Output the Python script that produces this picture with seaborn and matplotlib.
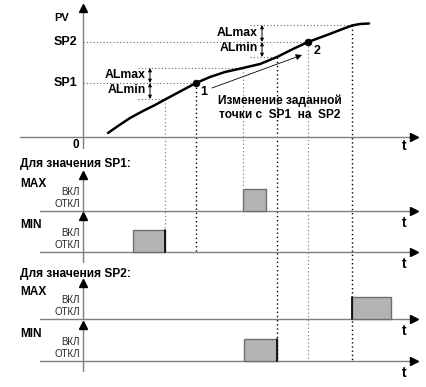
import matplotlib
matplotlib.use('Agg')
import matplotlib.pyplot as plt
import numpy as np
import pandas as pd
import seaborn as sns

# --- data (time axis in px, PV as height above the t axis) ---
T_CURVE = [108, 118, 130, 143, 155, 166, 181, 196, 210, 225, 243, 260, 277, 293, 308,
           327, 340, 352, 360, 369]
PV_CURVE = [4, 11, 19, 26, 32, 38, 46, 54, 60, 65, 69, 73, 80, 88, 95,
            102, 107, 111.5, 113, 113.5]

SETPOINTS = ['SP1', 'SP2']
SP_VALUE = [54, 95]
SP_TIME = [196, 308]
AL_HIGH = [69, 112]
AL_LOW = [38, 80]

# crossing times of the curve with the alarm levels / setpoints
EVENT_T = [165, 196, 243, 277, 308, 352]
EVENT_PV = [38, 54, 69, 80, 95, 112]
EVENT_DARK = [False, True, False, True, False, True]

ROWS = ['SP1 MAX', 'SP1 MIN', 'SP2 MAX', 'SP2 MIN']
BAR_START = [243, 133, 352, 244]
BAR_END = [266, 165, 391, 277]

# layout (pixels)
W, H = 427, 387
X0 = 83           # vertical axis
TOP_BASE = 137    # t axis of PV panel
ROW_BASE = [211, 252, 319, 361]
BAR_H = 22
EVENT_BOTTOM = [252, 252, 188, 361, 361, 361]

sns.set_style('white')
plt.rcParams['font.family'] = ['Liberation Sans', 'DejaVu Sans']

fig = plt.figure(figsize=(W / 100, H / 100), dpi=100)
ax = fig.add_axes([0, 0, 1, 1])
ax.set_xlim(0, W)
ax.set_ylim(H, 0)
ax.set_axis_off()

def pv_y(v):
    return TOP_BASE - np.asarray(v, dtype=float)

AXC = '#7f7f7f'
DOT = (0, (1, 2))

def head(x, y, d):
    ax.plot([x], [y], marker={'up': '^', 'right': '>'}[d], color='black',
            markersize=6, zorder=5, clip_on=False)

# PV panel axes
ax.plot([20, 412], [TOP_BASE, TOP_BASE], color=AXC, lw=1)
head(414, TOP_BASE, 'right')
ax.plot([X0, X0], [148, 10], color=AXC, lw=1)
head(X0, 8, 'up')

# setpoint / alarm dotted lines
for sp, v, t, hi, lo in zip(SETPOINTS, SP_VALUE, SP_TIME, AL_HIGH, AL_LOW):
    ax.plot([X0, t], pv_y([v, v]), color='#666666', lw=0.8, ls=DOT)
for lo_x, lvl, t in [(138, AL_HIGH[0], 243), (138, AL_LOW[0], 165),
                     (250, AL_HIGH[1], 352), (250, AL_LOW[1], 277)]:
    ax.plot([lo_x, t], pv_y([lvl, lvl]), color='#666666', lw=0.8, ls=DOT)

# vertical event lines
for t, v, dark, yb in zip(EVENT_T, EVENT_PV, EVENT_DARK, EVENT_BOTTOM):
    ax.plot([t, t], [pv_y(v), yb], color='black' if dark else '#888888',
            lw=1.0 if dark else 0.9, ls=DOT, zorder=1)

# PV curve
df = pd.DataFrame({'t': T_CURVE, 'y': pv_y(PV_CURVE)})
sns.lineplot(data=df, x='t', y='y', ax=ax, color='black', lw=1.8, sort=False)
sns.scatterplot(x=SP_TIME, y=pv_y(SP_VALUE), ax=ax, color='black', s=25,
                edgecolor='black', zorder=6)

# ALmax / ALmin brackets
for bx, v, hi, lo in [(150, SP_VALUE[0], AL_HIGH[0], AL_LOW[0]),
                      (262, SP_VALUE[1], AL_HIGH[1], AL_LOW[1])]:
    for a, b in [(v, hi), (v, lo)]:
        ax.annotate('', xy=(bx, pv_y(b)), xytext=(bx, pv_y(a)),
                    arrowprops=dict(arrowstyle='<|-|>', color='black', lw=0.7,
                                    mutation_scale=5, shrinkA=0, shrinkB=0))

# set point change arrow
ax.annotate('', xy=(302, 55), xytext=(212, 88),
            arrowprops=dict(arrowstyle='-|>', color='black', lw=0.6,
                            mutation_scale=9, shrinkA=0, shrinkB=0))

B = dict(fontweight='bold', color='black')
ax.text(62, 18, 'PV', fontsize=8, ha='center', va='center', **B)
ax.text(77, pv_y(SP_VALUE[1]), 'SP2', fontsize=9, ha='right', va='center', **B)
ax.text(77, pv_y(SP_VALUE[0]), 'SP1', fontsize=9, ha='right', va='center', **B)
ax.text(76, 145, '0', fontsize=8.5, ha='center', va='center', **B)
ax.text(404, 146, 't', fontsize=10, ha='center', va='center', **B)
ax.text(146, 75, 'ALmax', fontsize=8.8, ha='right', va='center', **B)
ax.text(146, 90, 'ALmin', fontsize=8.8, ha='right', va='center', **B)
ax.text(258, 33, 'ALmax', fontsize=8.8, ha='right', va='center', **B)
ax.text(258, 48, 'ALmin', fontsize=8.8, ha='right', va='center', **B)
ax.text(204, 92, '1', fontsize=9, ha='center', va='center', **B)
ax.text(317, 51, '2', fontsize=9, ha='center', va='center', **B)
ax.text(280, 101, 'Изменение заданной', fontsize=8.6, ha='center', va='center', **B)
ax.text(280, 115, 'точки с  SP1  на  SP2', fontsize=8.6, ha='center', va='center', **B)

# timing rows
for grp, title_y in enumerate([164, 274]):
    ax.text(20, title_y, f'Для значения {SETPOINTS[grp]}:', fontsize=8.6,
            ha='left', va='center', **B)

for i, (name, base) in enumerate(zip(ROWS, ROW_BASE)):
    kind = name.split()[1]
    ax.plot([40, 412], [base, base], color=AXC, lw=1)
    head(414, base, 'right')
    ax.text(404, base + 12, 't', fontsize=10, ha='center', va='center', **B)
    ax.plot([X0, X0], [base - 34, base + 10 if i % 2 else base],
            color=AXC, lw=1)
    head(X0, base - 36, 'up')
    ax.text(20, base - 27, kind, fontsize=8.6, ha='left', va='center', **B)
    ax.text(80, base - 19, 'ВКЛ', fontsize=7, ha='right', va='center')
    ax.text(80, base - 7, 'ОТКЛ', fontsize=7, ha='right', va='center')
    s, e = BAR_START[i], BAR_END[i]
    ax.bar(s, -BAR_H, width=e - s, bottom=base, align='edge',
           color='#b3b3b3', edgecolor='#6e6e6e', lw=1, zorder=3)

# darker edges of the bars along the event lines
for x, base in [(BAR_END[1], ROW_BASE[1]), (BAR_START[2], ROW_BASE[2]),
                (BAR_END[3], ROW_BASE[3])]:
    ax.plot([x, x], [base, base - BAR_H], color='black', lw=1.2, zorder=4)

fig.savefig('out.png', dpi=100)
